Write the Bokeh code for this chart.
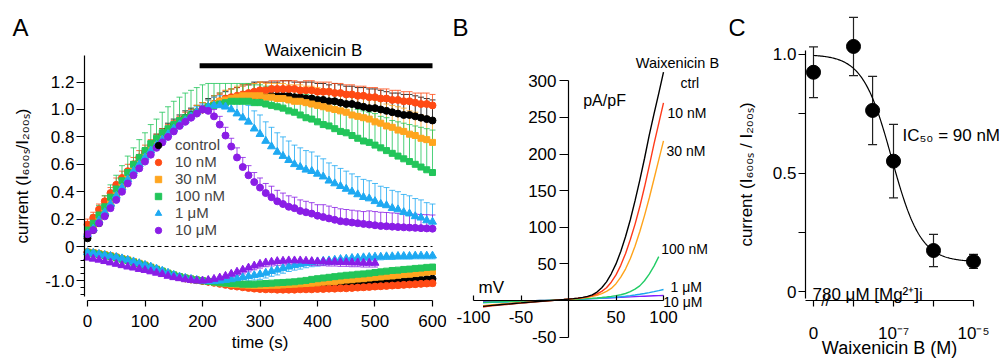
from bokeh.plotting import figure
from bokeh.models import (ColumnDataSource, Range1d, FixedTicker, Whisker, TeeHead, Label,
                          Legend, LegendItem)
from bokeh.layouts import row
from bokeh.embed import file_html
from bokeh.resources import INLINE

FONT = "Liberation Sans"

# ---------------- Panel A data (normalised to value at 200 s) ----------------
time_s = list(range(0, 601, 10))
time_s_10uM_in = list(range(0, 501, 10))
series_names = ["control", "10 nM", "30 nM", "100 nM", "1 \u03bcM", "10 \u03bcM"]
series_colors = ["#000000", "#FF4A14", "#FFA51F", "#22C55A", "#1EA9F2", "#8A1DE6"]
marker_out = ["circle", "circle", "square", "square", "triangle", "circle"]
marker_in = ["circle", "circle", "square", "square", "triangle", "triangle"]

out_ctrl = [0.06, 0.12, 0.17, 0.23, 0.30, 0.37, 0.44, 0.50, 0.56, 0.62,
            0.67, 0.72, 0.77, 0.81, 0.85, 0.88, 0.91, 0.94, 0.96, 0.98,
            1.00, 1.02, 1.04, 1.05, 1.06, 1.07, 1.08, 1.09, 1.09, 1.10,
            1.10, 1.10, 1.10, 1.10, 1.10, 1.10, 1.09, 1.09, 1.08, 1.08,
            1.07, 1.07, 1.06, 1.06, 1.05, 1.04, 1.04, 1.03, 1.02, 1.01,
            1.01, 1.00, 0.99, 0.98, 0.97, 0.96, 0.96, 0.95, 0.94, 0.93,
            0.92]
out_10n = [0.16, 0.21, 0.27, 0.33, 0.39, 0.45, 0.50, 0.55, 0.60, 0.65,
           0.69, 0.73, 0.77, 0.81, 0.84, 0.87, 0.90, 0.93, 0.95, 0.98,
           1.00, 1.02, 1.04, 1.06, 1.08, 1.09, 1.10, 1.11, 1.12, 1.13,
           1.14, 1.14, 1.15, 1.15, 1.15, 1.15, 1.15, 1.14, 1.14, 1.14,
           1.13, 1.13, 1.13, 1.12, 1.12, 1.11, 1.11, 1.10, 1.10, 1.09,
           1.09, 1.08, 1.08, 1.07, 1.07, 1.06, 1.06, 1.05, 1.04, 1.04,
           1.03]
out_30n = [0.10, 0.14, 0.20, 0.26, 0.32, 0.38, 0.44, 0.50, 0.56, 0.61,
           0.66, 0.71, 0.75, 0.79, 0.83, 0.86, 0.89, 0.92, 0.95, 0.98,
           1.00, 1.02, 1.04, 1.06, 1.07, 1.08, 1.09, 1.10, 1.10, 1.10,
           1.10, 1.09, 1.09, 1.08, 1.08, 1.07, 1.06, 1.06, 1.05, 1.04,
           1.03, 1.02, 1.01, 1.00, 0.99, 0.98, 0.96, 0.95, 0.94, 0.93,
           0.91, 0.90, 0.88, 0.87, 0.85, 0.84, 0.82, 0.81, 0.79, 0.78,
           0.76]
out_100n = [0.12, 0.17, 0.23, 0.29, 0.36, 0.42, 0.48, 0.54, 0.60, 0.65,
            0.70, 0.75, 0.79, 0.83, 0.86, 0.89, 0.92, 0.94, 0.96, 0.98,
            1.00, 1.02, 1.03, 1.04, 1.05, 1.06, 1.06, 1.06, 1.06, 1.05,
            1.05, 1.04, 1.03, 1.02, 1.01, 0.99, 0.98, 0.96, 0.94, 0.93,
            0.91, 0.89, 0.88, 0.86, 0.84, 0.83, 0.81, 0.79, 0.77, 0.76,
            0.74, 0.72, 0.70, 0.68, 0.66, 0.64, 0.62, 0.60, 0.58, 0.56,
            0.54]
out_1u = [0.09, 0.13, 0.19, 0.25, 0.31, 0.37, 0.43, 0.49, 0.55, 0.60,
          0.65, 0.70, 0.74, 0.78, 0.82, 0.86, 0.89, 0.92, 0.95, 0.98,
          1.00, 1.02, 1.03, 1.03, 1.02, 1.00, 0.97, 0.94, 0.91, 0.86,
          0.82, 0.77, 0.73, 0.69, 0.66, 0.63, 0.60, 0.58, 0.56, 0.55,
          0.53, 0.51, 0.48, 0.46, 0.44, 0.42, 0.40, 0.38, 0.36, 0.35,
          0.33, 0.31, 0.30, 0.28, 0.27, 0.25, 0.24, 0.22, 0.21, 0.19,
          0.18]
out_10u = [0.09, 0.12, 0.17, 0.22, 0.28, 0.34, 0.40, 0.46, 0.52, 0.57,
           0.62, 0.67, 0.72, 0.76, 0.80, 0.84, 0.88, 0.91, 0.94, 0.97,
           1.00, 0.99, 0.95, 0.89, 0.81, 0.73, 0.65, 0.58, 0.52, 0.47,
           0.43, 0.39, 0.36, 0.33, 0.31, 0.29, 0.28, 0.26, 0.25, 0.24,
           0.225, 0.215, 0.205, 0.195, 0.185, 0.18, 0.175, 0.17, 0.165, 0.16,
           0.155, 0.15, 0.148, 0.145, 0.142, 0.14, 0.138, 0.136, 0.134, 0.132,
           0.13]

err_out_ctrl = [.03, .03, .03, .04, .04, .04, .04, .05, .05, .05,
                .05, .05, .05, .05, .05, .05, .05, .05, .05, .05,
                .05, .06, .06, .07, .07, .08, .08, .09, .09, .10,
                .10, .10, .10, .10, .11, .11, .11, .11, .12, .12,
                .12, .12, .12, .13, .13, .13, .13, .13, .14, .14,
                .14, .14, .14, .14, .15, .15, .15, .15, .15, .15,
                .15]
err_out_10n = [.04, .04, .04, .04, .04, .05, .05, .05, .05, .05,
               .05, .05, .05, .05, .05, .05, .05, .05, .05, .05,
               .05, .05, .05, .05, .06, .06, .06, .06, .06, .06,
               .06, .06, .06, .06, .06, .06, .06, .06, .07, .07,
               .07, .07, .07, .07, .07, .07, .07, .07, .07, .07,
               .07, .07, .07, .07, .07, .07, .07, .07, .08, .08,
               .08]
err_out_30n = [.04, .04, .04, .04, .04, .04, .04, .04, .04, .04,
               .04, .04, .04, .04, .04, .04, .04, .04, .04, .05,
               .05, .05, .06, .06, .07, .07, .08, .08, .09, .09,
               .10, .10, .10, .11, .11, .11, .12, .12, .12, .13,
               .13, .13, .14, .14, .14, .15, .15, .15, .15, .16,
               .16, .16, .16, .16, .17, .17, .17, .17, .17, .17,
               .17]
err_out_100n = [.05, .06, .07, .08, .09, .10, .11, .12, .12, .13,
                .13, .14, .14, .15, .16, .17, .17, .18, .18, .18,
                .18, .17, .16, .15, .14, .13, .13, .13, .13, .13,
                .13, .13, .14, .14, .15, .15, .16, .16, .17, .17,
                .18, .18, .19, .19, .20, .20, .21, .21, .22, .22,
                .23, .23, .24, .24, .25, .26, .27, .28, .29, .30,
                .31]
err_out_1u = [.03, .03, .03, .04, .04, .04, .04, .04, .04, .04,
              .04, .04, .04, .04, .04, .04, .04, .04, .04, .04,
              .04, .05, .06, .07, .08, .09, .10, .11, .12, .13,
              .14, .14, .14, .14, .14, .14, .14, .14, .14, .14,
              .13, .13, .13, .13, .13, .13, .13, .13, .13, .13,
              .13, .13, .13, .13, .13, .13, .13, .13, .13, .13,
              .13]
err_out_10u = [.03, .03, .03, .03, .03, .03, .03, .03, .03, .03,
               .03, .03, .03, .03, .03, .03, .03, .03, .03, .03,
               .03, .04, .05, .06, .06, .06, .07, .07, .07, .07,
               .07, .07, .08, .08, .08, .08, .08, .08, .08, .08,
               .08, .09, .09, .09, .09, .09, .09, .09, .09, .10,
               .10, .10, .10, .10, .10, .10, .10, .10, .10, .10,
               .10]

in_ctrl = [-0.17, -0.19, -0.22, -0.25, -0.28, -0.32, -0.36, -0.40, -0.45, -0.50,
           -0.55, -0.61, -0.67, -0.73, -0.79, -0.84, -0.89, -0.93, -0.96, -0.98,
           -1.00, -1.02, -1.04, -1.06, -1.08, -1.10, -1.11, -1.12, -1.13, -1.14,
           -1.15, -1.16, -1.16, -1.17, -1.17, -1.17, -1.17, -1.17, -1.16, -1.16,
           -1.15, -1.15, -1.14, -1.13, -1.12, -1.11, -1.10, -1.09, -1.08, -1.07,
           -1.06, -1.05, -1.04, -1.03, -1.02, -1.01, -0.99, -0.98, -0.97, -0.95,
           -0.94]
in_10n = [-0.16, -0.18, -0.21, -0.24, -0.27, -0.31, -0.35, -0.40, -0.45, -0.50,
          -0.56, -0.62, -0.68, -0.74, -0.80, -0.85, -0.89, -0.93, -0.96, -0.98,
          -1.00, -1.03, -1.06, -1.09, -1.12, -1.15, -1.17, -1.19, -1.21, -1.23,
          -1.24, -1.25, -1.25, -1.26, -1.26, -1.26, -1.26, -1.25, -1.25, -1.25,
          -1.24, -1.24, -1.23, -1.23, -1.22, -1.22, -1.21, -1.20, -1.19, -1.18,
          -1.17, -1.16, -1.15, -1.14, -1.13, -1.12, -1.11, -1.10, -1.09, -1.08,
          -1.07]
in_30n = [-0.16, -0.18, -0.21, -0.24, -0.27, -0.31, -0.35, -0.39, -0.44, -0.49,
          -0.54, -0.60, -0.66, -0.72, -0.78, -0.83, -0.88, -0.92, -0.95, -0.98,
          -1.00, -1.02, -1.04, -1.06, -1.08, -1.10, -1.11, -1.12, -1.13, -1.14,
          -1.14, -1.14, -1.13, -1.13, -1.12, -1.11, -1.10, -1.09, -1.08, -1.07,
          -1.06, -1.04, -1.03, -1.02, -1.00, -0.98, -0.97, -0.95, -0.94, -0.92,
          -0.90, -0.89, -0.87, -0.86, -0.84, -0.82, -0.81, -0.79, -0.77, -0.75,
          -0.73]
in_100n = [-0.18, -0.20, -0.23, -0.26, -0.29, -0.33, -0.37, -0.41, -0.46, -0.51,
           -0.56, -0.61, -0.67, -0.72, -0.78, -0.83, -0.88, -0.92, -0.95, -0.98,
           -1.00, -1.02, -1.04, -1.06, -1.07, -1.08, -1.09, -1.10, -1.10, -1.10,
           -1.09, -1.08, -1.07, -1.06, -1.05, -1.04, -1.03, -1.01, -0.99, -0.96,
           -0.94, -0.92, -0.90, -0.88, -0.86, -0.84, -0.83, -0.81, -0.80, -0.78,
           -0.76, -0.74, -0.72, -0.70, -0.69, -0.67, -0.66, -0.64, -0.63, -0.61,
           -0.60]
in_1u = [-0.17, -0.19, -0.22, -0.25, -0.28, -0.31, -0.35, -0.39, -0.44, -0.49,
         -0.54, -0.59, -0.65, -0.71, -0.77, -0.83, -0.88, -0.92, -0.95, -0.98,
         -1.00, -1.01, -1.01, -1.00, -0.98, -0.96, -0.93, -0.90, -0.87, -0.84,
         -0.81, -0.77, -0.72, -0.68, -0.63, -0.59, -0.55, -0.52, -0.49, -0.46,
         -0.44, -0.42, -0.41, -0.39, -0.37, -0.36, -0.34, -0.33, -0.32, -0.31,
         -0.30, -0.30, -0.29, -0.29, -0.28, -0.28, -0.28, -0.27, -0.27, -0.27,
         -0.27]
in_10u = [-0.33, -0.36, -0.39, -0.43, -0.47, -0.51, -0.55, -0.59, -0.62, -0.66,
          -0.69, -0.73, -0.77, -0.81, -0.86, -0.90, -0.93, -0.96, -0.98, -1.00,
          -1.00, -0.98, -0.95, -0.91, -0.86, -0.80, -0.74, -0.68, -0.62, -0.56,
          -0.51, -0.47, -0.45, -0.43, -0.42, -0.41, -0.41, -0.41, -0.42, -0.43,
          -0.44, -0.44, -0.45, -0.45, -0.46, -0.46, -0.47, -0.47, -0.48, -0.48,
          -0.48]

err_in_ctrl = [.02, .02, .02, .03, .03, .03, .03, .03, .04, .04,
               .04, .04, .04, .04, .04, .04, .04, .04, .04, .04,
               .04, .04, .05, .05, .05, .05, .05, .05, .05, .05,
               .05, .05, .05, .05, .05, .05, .05, .05, .05, .05,
               .05, .05, .05, .05, .05, .06, .06, .06, .06, .06,
               .06, .06, .06, .06, .06, .06, .06, .06, .06, .06,
               .06]
err_in_10n = [.03, .03, .03, .03, .03, .04, .04, .04, .04, .04,
              .04, .04, .04, .04, .04, .04, .04, .04, .04, .04,
              .04, .05, .05, .05, .06, .06, .06, .06, .07, .07,
              .07, .07, .07, .07, .07, .07, .07, .07, .07, .07,
              .07, .07, .07, .07, .07, .07, .07, .07, .08, .08,
              .08, .08, .08, .08, .08, .08, .08, .08, .08, .08,
              .08]
err_in_30n = [.03, .03, .03, .03, .03, .03, .04, .04, .04, .04,
              .04, .04, .04, .04, .04, .04, .04, .04, .04, .04,
              .04, .04, .05, .05, .05, .05, .05, .06, .06, .06,
              .06, .06, .06, .06, .06, .06, .07, .07, .07, .07,
              .07, .07, .07, .07, .07, .07, .07, .07, .07, .07,
              .07, .07, .07, .07, .07, .07, .07, .07, .07, .07,
              .07]
err_in_100n = [.03, .03, .03, .03, .04, .04, .04, .04, .04, .04,
               .04, .04, .04, .04, .04, .04, .04, .04, .04, .04,
               .04, .05, .05, .05, .06, .06, .06, .07, .07, .07,
               .07, .08, .08, .08, .08, .08, .08, .08, .08, .08,
               .08, .08, .08, .08, .08, .08, .08, .08, .08, .08,
               .08, .08, .08, .08, .08, .08, .08, .08, .08, .08,
               .08]
err_in_1u = [.03, .03, .03, .03, .03, .03, .04, .04, .04, .04,
             .04, .04, .04, .04, .04, .04, .04, .04, .04, .04,
             .04, .05, .06, .07, .08, .10, .11, .12, .13, .14,
             .15, .15, .15, .15, .15, .14, .14, .14, .13, .13,
             .13, .12, .12, .12, .11, .11, .11, .10, .10, .10,
             .10, .09, .09, .09, .09, .09, .09, .09, .09, .09,
             .09]
err_in_10u = [.04, .04, .04, .05, .05, .05, .05, .05, .05, .05,
              .05, .05, .05, .05, .05, .05, .05, .05, .05, .05,
              .05, .06, .07, .08, .09, .10, .11, .12, .12, .12,
              .12, .12, .12, .12, .12, .12, .12, .12, .12, .12,
              .12, .12, .12, .12, .12, .12, .12, .12, .12, .12,
              .12]

drug_period_s = [195, 600]

# ---------------- Panel B data (I-V ramps, pA/pF) ----------------
ramp_mV = [-90, -85, -80, -75, -70, -65, -60, -55, -50, -45, -40, -35, -30, -25, -20,
           -15, -10, -5, 0, 5, 10, 15, 20, 25, 30, 35, 40, 45, 50, 55, 60, 65, 70, 75,
           80, 85, 90, 95, 100]
nan = float("nan")
iv_ctrl = [-8.0, -7.3, -6.7, -6.1, -5.5, -4.9, -4.4, -3.8, -3.3, -2.7, -2.2, -1.7, -1.2, -0.7,
           -0.2, 0.3, 0.8, 1.3, 1.9, 2.5, 3.2, 4.2, 5.6, 7.8, 11.5, 17.5, 25.5, 36.5, 50.0,
           67.0, 87.0, 110.0, 136.0, 164.0, 194.0, 226.0, 255.0, 283.0, 312.0]
iv_10n = [-8.8, -8.1, -7.4, -6.7, -6.0, -5.4, -4.8, -4.2, -3.6, -3.0, -2.4, -1.9, -1.3, -0.8,
          -0.3, 0.2, 0.8, 1.3, 1.9, 2.5, 3.1, 3.9, 5.0, 6.7, 9.0, 12.5, 17.5, 25.0, 35.0,
          48.0, 64.0, 83.0, 104.0, 128.0, 155.0, 184.0, 214.0, 242.0, 270.0]
iv_30n = [-7.0, -6.4, -5.8, -5.3, -4.8, -4.3, -3.8, -3.3, -2.8, -2.4, -1.9, -1.5, -1.0, -0.6,
          -0.2, 0.3, 0.7, 1.2, 1.7, 2.2, 2.8, 3.5, 4.4, 5.6, 7.2, 9.5, 12.5, 16.5, 23.0,
          32.0, 43.0, 57.0, 74.0, 94.0, 116.0, 140.0, 166.0, 192.0, 218.0]
iv_100n = [-2.5, -2.3, -2.1, -1.9, -1.7, -1.5, -1.3, -1.1, -0.9, -0.7, -0.5, -0.3, -0.1, 0.1,
           0.3, 0.5, 0.7, 0.9, 1.2, 1.5, 1.8, 2.2, 2.6, 3.0, 3.5, 4.1, 4.8, 5.6, 6.6,
           7.9, 9.6, 12.0, 15.5, 20.0, 27.0, 36.0, 47.0, 60.0, nan]
iv_1u = [-3.0, -2.8, -2.6, -2.4, -2.2, -2.0, -1.8, -1.6, -1.4, -1.2, -1.0, -0.8, -0.6, -0.4,
         -0.2, 0.1, 0.4, 0.7, 1.0, 1.3, 1.6, 1.9, 2.2, 2.5, 2.8, 3.2, 3.6, 4.0, 4.5,
         5.1, 5.8, 6.6, 7.5, 8.5, 9.6, 10.8, 12.1, 13.5, 15.0]
iv_10u = [-1.5, -1.4, -1.3, -1.2, -1.1, -1.0, -0.9, -0.8, -0.7, -0.6, -0.4, -0.3, -0.1, 0.1,
          0.3, 0.5, 0.7, 0.9, 1.1, 1.4, 1.7, 2.0, 2.3, 2.6, 2.9, 3.2, 3.5, 3.8, 4.1,
          4.4, 4.7, 5.0, 5.3, 5.6, 5.9, 6.2, 6.5, 6.7, 6.9]
iv_labels = ["ctrl", "10 nM", "30 nM", "100 nM", "1 \u03bcM", "10 \u03bcM"]
iv_colors = ["#000000", "#FF3A1A", "#FFA31A", "#22CC66", "#1AA7EE", "#7F1FFF"]
iv_x_ticks = [-100, -50, 50, 100]
iv_x_labels = ["-100", "-50", "50", "100"]
iv_y_ticks = [-50, 0, 50, 100, 150, 200, 250, 300]
iv_y_labels = ["-50", "", "50", "100", "150", "200", "250", "300"]

# ---------------- Panel C data (dose response) ----------------
dose_M = [0, 1e-8, 3e-8, 1e-7, 1e-6, 1e-5]
zero_dose_position = 1e-9
ratio_mean = [0.925, 1.034, 0.764, 0.55, 0.173, 0.127]
ratio_sem = [0.107, 0.123, 0.144, 0.155, 0.068, 0.03]
IC50_M = 90e-9
hill_n = 1.2
fit_top = 1.0
fit_bottom = 0.125

# =====================================================================
def style_axis(ax, size="17px"):
    ax.axis_line_color = "black"
    ax.axis_line_width = 1.2
    ax.major_tick_line_color = "black"
    ax.major_tick_line_width = 1.2
    ax.minor_tick_line_color = "black"
    ax.minor_tick_line_width = 1.2
    ax.major_label_text_font = FONT
    ax.major_label_text_font_size = size
    ax.major_label_text_color = "black"
    ax.axis_label_text_font = FONT
    ax.axis_label_text_font_size = size
    ax.axis_label_text_font_style = "normal"
    ax.axis_label_text_color = "black"


def add_text(p, x, y, txt, size, align="left", baseline="middle", **kw):
    p.add_layout(Label(x=x, y=y, text=txt, text_font=FONT, text_font_size=size,
                       text_align=align, text_baseline=baseline, text_color="black", **kw))


def base_fig(width, x_range, y_range, **kw):
    p = figure(width=width, height=362, x_range=x_range, y_range=y_range,
               output_backend="svg", toolbar_location=None,
               min_border_left=2, min_border_right=2, min_border_top=2, min_border_bottom=2,
               **kw)
    p.outline_line_color = None
    p.grid.visible = False
    return p


# ---------------- Panel A ----------------
R = 0.25  # display scale of the inward-current section
ya0, ya1 = -0.8321, 1.7810
pa = base_fig(448, Range1d(-147.83, 624.35), Range1d(ya0, ya1))
pa.extra_y_ranges = {"inward": Range1d(ya0 / R, ya1 / R)}

pa.segment(x0=[time_s[0]], y0=[0], x1=[time_s[-1]], y1=[0], line_dash="4 3",
           line_color="black", line_width=1)

outs = [out_ctrl, out_10n, out_30n, out_100n, out_1u, out_10u]
errs_out = [err_out_ctrl, err_out_10n, err_out_30n, err_out_100n, err_out_1u, err_out_10u]
ins = [in_ctrl, in_10n, in_30n, in_100n, in_1u, in_10u]
errs_in = [err_in_ctrl, err_in_10n, err_in_30n, err_in_100n, err_in_1u, err_in_10u]
sizes = {"circle": 7, "square": 6, "triangle": 8}

legend_items = []
for i in range(6):
    c = series_colors[i]
    t_in = time_s_10uM_in if i == 5 else time_s
    src_in = ColumnDataSource(dict(t=t_in, y=ins[i],
                                   lo=[v - e for v, e in zip(ins[i], errs_in[i])]))
    pa.add_layout(Whisker(source=src_in, base="t", lower="lo", upper="y", dimension="height",
                          line_color=c, line_width=1, line_alpha=0.8, upper_head=None,
                          lower_head=TeeHead(size=6, line_color=c, line_width=1, line_alpha=0.8),
                          y_range_name="inward"))
    pa.scatter("t", "y", source=src_in, marker=marker_in[i], size=sizes[marker_in[i]],
               color=c, y_range_name="inward")
for i in range(6):
    c = series_colors[i]
    src_out = ColumnDataSource(dict(t=time_s, y=outs[i],
                                    hi=[v + e for v, e in zip(outs[i], errs_out[i])]))
    pa.add_layout(Whisker(source=src_out, base="t", lower="y", upper="hi", dimension="height",
                          line_color=c, line_width=1, line_alpha=0.8, lower_head=None,
                          upper_head=TeeHead(size=6, line_color=c, line_width=1, line_alpha=0.8)))
    r = pa.scatter("t", "y", source=src_out, marker=marker_out[i], size=sizes[marker_out[i]],
                   color=c)
    legend_items.append(LegendItem(label=series_names[i], renderers=[r]))

pa.line(drug_period_s, [1.32, 1.32], line_width=5, line_color="black")
add_text(pa, 393, 1.431, "Waixenicin B", "17px", align="center")
add_text(pa, -116.5, 1.602, "A", "24px", align="center")

leg = Legend(items=legend_items, location=(148, 122), padding=0, spacing=0, margin=0,
             glyph_width=16, glyph_height=16, label_height=16, label_standoff=9,
             label_text_font=FONT, label_text_font_size="15px",
             background_fill_alpha=0, border_line_color=None)
pa.add_layout(leg)

xa = pa.xaxis[0]
style_axis(xa)
xa.fixed_location = -0.3942
xa.ticker = FixedTicker(ticks=[0, 100, 200, 300, 400, 500, 600])
xa.bounds = (0, 600)
xa.major_tick_out = 6
xa.major_tick_in = 0
xa.minor_tick_out = 0
xa.major_label_standoff = 8
xa.axis_label = "time (s)"
xa.axis_label_standoff = 3

ya = pa.yaxis[0]
style_axis(ya)
ya.fixed_location = -5.217
up_ticks = [0, 0.2, 0.4, 0.6, 0.8, 1.0, 1.2]
up_labels = ["0", "0.2", "0.4", "0.6", "0.8", "1.0", "1.2"]
in_major = -1.0
in_minor = [-0.4, -0.6, -0.8, -1.2, -1.4]
ya.ticker = FixedTicker(ticks=[in_major * R] + up_ticks, minor_ticks=[v * R for v in in_minor])
ov = {in_major * R: "-1.0"}
ov.update(dict(zip(up_ticks, up_labels)))
ya.major_label_overrides = ov
ya.bounds = (-1.46 * R, 1.394)
ya.major_tick_out = 8
ya.major_tick_in = 0
ya.minor_tick_out = 4
ya.minor_tick_in = 0
ya.major_label_standoff = 2
ya.axis_label = "current (I\u2086\u2080\u2080\u209b/I\u2082\u2080\u2080\u209b)"
ya.axis_label_standoff = 10

# ---------------- Panel B ----------------
pb = base_fig(279, Range1d(-124.21, 165.26), Range1d(-81.97, 407.10))
ivs = [iv_ctrl, iv_10n, iv_30n, iv_100n, iv_1u, iv_10u]
for i in [5, 4, 3, 2, 1, 0]:
    pb.line(ramp_mV, ivs[i], line_color=iv_colors[i], line_width=1.4)

xb = pb.xaxis[0]
style_axis(xb)
xb.fixed_location = 0
xb.bounds = (-100, 100)
xb.ticker = FixedTicker(ticks=iv_x_ticks)
xb.major_label_overrides = dict(zip(iv_x_ticks, iv_x_labels))
xb.major_tick_in = 5
xb.major_tick_out = 0
xb.minor_tick_out = 0
xb.major_label_standoff = 11

yb = pb.yaxis[0]
style_axis(yb)
yb.fixed_location = 0
yb.bounds = (-50, 300)
yb.ticker = FixedTicker(ticks=iv_y_ticks)
yb.major_label_overrides = dict(zip(iv_y_ticks, iv_y_labels))
yb.major_tick_out = 9
yb.major_tick_in = 0
yb.minor_tick_out = 0
yb.major_label_standoff = 3

label_pos_b = [(117.9, 297.5), (104.2, 255.5), (103.2, 204.9), (97.6, 71.0), (107.4, 19.1),
               (99.7, -2.7)]
for (lx, lyv), txt in zip(label_pos_b, iv_labels):
    add_text(pb, lx, lyv, txt, "14px")
add_text(pb, 114.7, 325.1, "Waixenicin B", "14.5px", align="center")
add_text(pb, 15.5, 273.2, "pA/pF", "16px")
add_text(pb, -94.7, 17.8, "mV", "17px")
add_text(pb, -113.7, 373.6, "B", "24px", align="center")

# ---------------- Panel C ----------------
pc = base_fig(274, Range1d(10 ** -11.1, 10 ** -4.35), Range1d(-0.2911, 1.2194),
              x_axis_type="log")
dose_pos = [zero_dose_position if d == 0 else d for d in dose_M]
fit_x = [10 ** (-9 + 4 * k / 200) for k in range(201)]
fit_y = [fit_bottom + (fit_top - fit_bottom) / (1 + (x / IC50_M) ** hill_n) for x in fit_x]
pc.line(fit_x, fit_y, line_color="black", line_width=1.2)
src_c = ColumnDataSource(dict(x=dose_pos, y=ratio_mean,
                              lo=[m - s for m, s in zip(ratio_mean, ratio_sem)],
                              hi=[m + s for m, s in zip(ratio_mean, ratio_sem)]))
pc.add_layout(Whisker(source=src_c, base="x", lower="lo", upper="hi", dimension="height",
                      line_color="#222222", line_width=1.2,
                      upper_head=TeeHead(size=9, line_color="#222222", line_width=1.2),
                      lower_head=TeeHead(size=9, line_color="#222222", line_width=1.2)))
pc.scatter("x", "y", source=src_c, marker="circle", size=14, color="black")

xc = pc.xaxis[0]
style_axis(xc)
xc.fixed_location = -0.038
c_ticks = [1e-9, 1e-8, 1e-7, 1e-6, 1e-5]
xc.ticker = FixedTicker(ticks=c_ticks)
xc.major_label_overrides = {1e-9: "0", 1e-8: "", 1e-7: "10\u207b\u2077", 1e-6: "",
                            1e-5: "10\u207b\u2075"}
xc.bounds = (10 ** -9.2, 1e-5)
xc.major_tick_out = 6
xc.major_tick_in = 0
xc.minor_tick_out = 0
xc.major_label_standoff = 17
xc.axis_label = "Waixenicin B (M)"
xc.axis_label_standoff = -8
xc.axis_label_text_font_size = "18px"

yc = pc.yaxis[0]
style_axis(yc)
yc.fixed_location = 10 ** -9.2
yc.ticker = FixedTicker(ticks=[0, 0.25, 0.5, 0.75, 1.0])
yc.major_label_overrides = {0: "0", 0.25: "", 0.5: "0.5", 0.75: "", 1.0: "1.0"}
yc.bounds = (-0.03, 1.017)
yc.major_tick_out = 7
yc.major_tick_in = 0
yc.minor_tick_out = 0
yc.major_label_standoff = 2
yc.axis_label = "current (I\u2086\u2080\u2080\u209b / I\u2082\u2080\u2080\u209b)"
yc.axis_label_standoff = 14

add_text(pc, 10 ** -8.7, -0.038, "//", "15px", align="center")
add_text(pc, 10 ** -9.025, -0.011, "780 \u03bcM [Mg\u00b2\u207a]i", "17px", baseline="alphabetic")
add_text(pc, 10 ** -6.775, 0.658, "IC\u2085\u2080 = 90 nM", "17px")
add_text(pc, 10 ** -10.9125, 1.116, "C", "24px", align="center")

layout = row(pa, pb, pc)
open("out.html", "w").write(file_html(layout, INLINE))
